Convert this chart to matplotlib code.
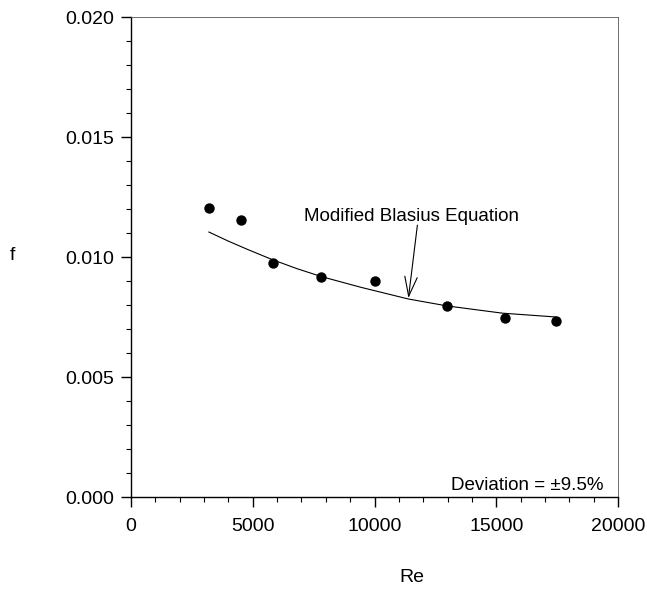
import matplotlib
matplotlib.use("Agg")
import matplotlib.pyplot as plt
from matplotlib.ticker import MultipleLocator

plt.rcParams['font.family'] = ['Liberation Sans', 'DejaVu Sans']

# Data points
re_data = [3200, 4510, 5820, 7790, 10040, 12990, 15370, 17440]
f_data = [0.01204, 0.01154, 0.00975, 0.00917, 0.00900, 0.00796, 0.00746, 0.00733]

# Modified Blasius equation curve
re_curve = [3200, 4000, 4800, 5780, 6800, 7830, 9470, 11390, 12990, 15250, 17460]
f_curve = [0.01104, 0.01066, 0.01031, 0.00990, 0.00952, 0.00918, 0.00873, 0.00825, 0.00796, 0.00766, 0.00750]

fig = plt.figure(figsize=(6.47, 5.91), dpi=100)
W, H = 647, 591
ax = fig.add_axes([131 / W, 1 - 497 / H, (618 - 131) / W, (497 - 17) / H])

ax.plot(re_curve, f_curve, color='black', lw=0.8)
ax.scatter(re_data, f_data, s=42, color='black', zorder=3)

ax.set_xlim(0, 20000)
ax.set_ylim(0, 0.020)
ax.xaxis.set_major_locator(MultipleLocator(5000))
ax.xaxis.set_minor_locator(MultipleLocator(1000))
ax.yaxis.set_major_locator(MultipleLocator(0.005))
ax.yaxis.set_minor_locator(MultipleLocator(0.001))
ax.yaxis.set_major_formatter(plt.FuncFormatter(lambda v, p: f"{v:.3f}"))
ax.tick_params(which='major', direction='out', length=7, width=1, labelsize=14)
ax.tick_params(axis='x', which='major', pad=8)
ax.tick_params(axis='y', which='major', pad=5)
ax.tick_params(which='minor', direction='out', length=3.5, width=0.8)
ax.tick_params(top=False, right=False)
for s in ['left', 'bottom']:
    ax.spines[s].set_linewidth(1.0)
for s in ['top', 'right']:
    ax.spines[s].set_linewidth(0.6)
    ax.spines[s].set_color('#555555')

ax.text(11516, 0.01167, 'Modified Blasius Equation', ha='center', va='center', fontsize=13.5)
ax.annotate('', xy=(11393, 0.00829), xytext=(11762, 0.01133),
            arrowprops=dict(arrowstyle='->,head_length=1.4,head_width=0.45', color='black', lw=0.8,
                            mutation_scale=10, shrinkA=0, shrinkB=0))
ax.text(19420, 0.0005, 'Deviation = ±9.5%', ha='right', va='center', fontsize=13.5)

fig.text(12 / W, 1 - 255 / H, 'f', fontsize=14, ha='center', va='center')
fig.text(412 / W, 1 - 578 / H, 'Re', fontsize=14, ha='center', va='center')

fig.savefig('out.png', dpi=100)
